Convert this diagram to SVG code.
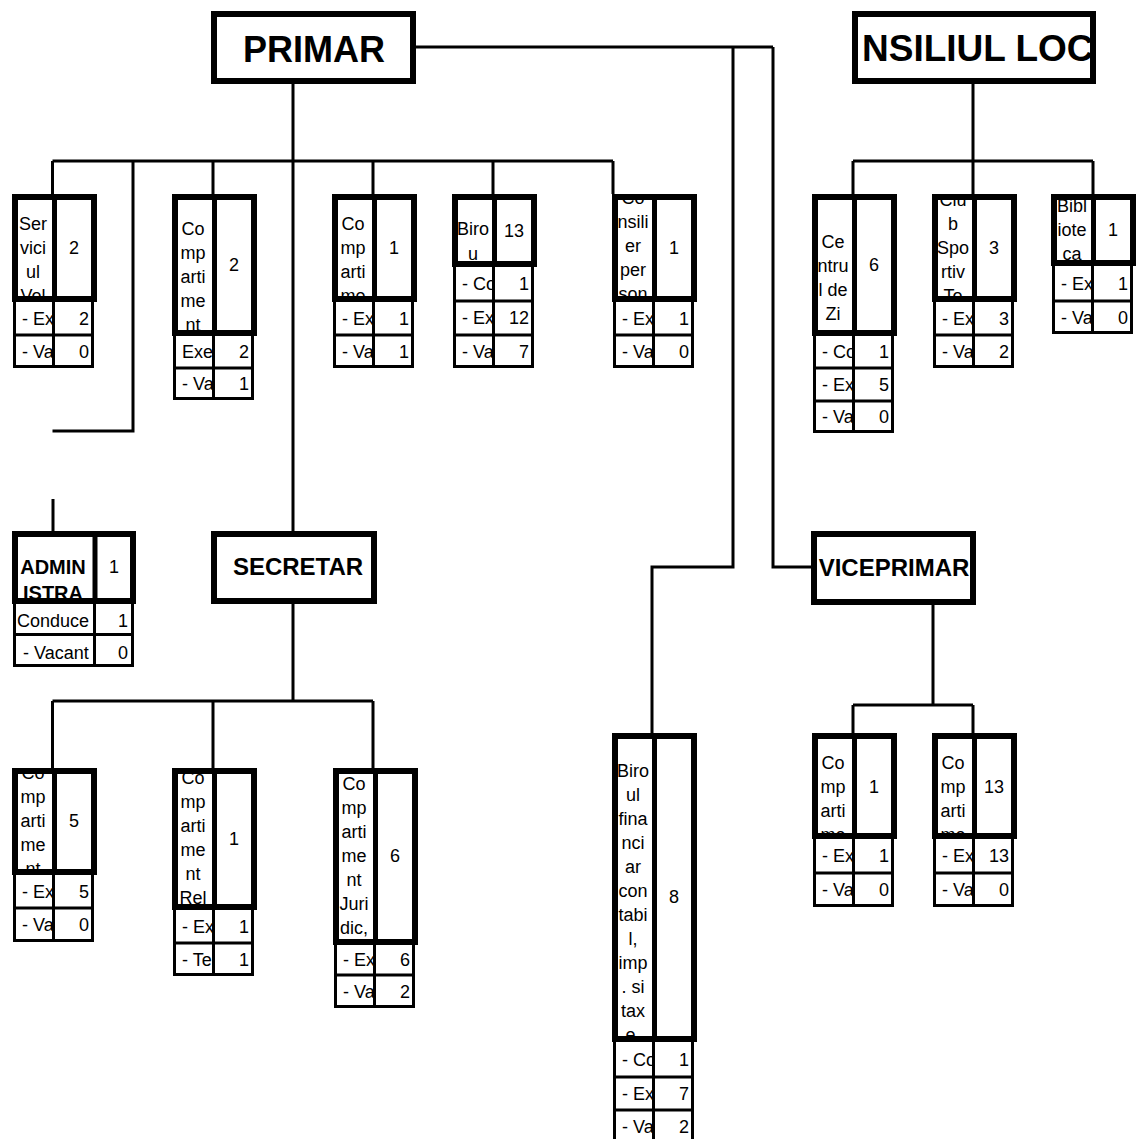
<svg xmlns="http://www.w3.org/2000/svg" width="1136" height="1139" viewBox="0 0 1136 1139">
<style>
.ln{stroke:#000;stroke-width:3;fill:none}
.hd{stroke:#000;stroke-width:6;fill:none}
.hdv{stroke:#000;stroke-width:5}
.rw{stroke:#000;stroke-width:3;fill:none}
text{font-family:"Liberation Sans",Arial,sans-serif;fill:#000;font-size:18px}
.nm,.num{text-anchor:middle}
.rn{text-anchor:end}
.ttl{font-weight:bold;text-anchor:middle}
.ttlL{font-weight:bold}
text.f36{font-size:36px}
text.f37{font-size:37px}
text.f24{font-size:24px}
text.f20{font-size:20px}
svg svg{overflow:hidden}
</style>
<rect x="0" y="0" width="1136" height="1139" fill="#fff"/>
<g id="connectors" class="ln">
<path d="M416,47H773M733,47V567H652V733M773,47V567H811"/>
<path d="M293,84V531M52.5,161H613M52.5,161V194M213,161V194M373,161V194M493,161V194M613,161V194M133,161V431H52.5M53,499V531"/>
<path d="M293,604V701M52.5,701H373M52.5,701V768M213,701V768M373,701V768"/>
<path d="M973,84V161M853,161H1093M853,161V194M973,161V194M1093,161V194"/>
<path d="M933,605V705M853,705H973M853,705V733M973,705V733"/>
</g>
<g id="n-primar"><rect class="hd" x="214" y="14" width="199" height="67"/><text class="ttl f36" x="314" y="62">PRIMAR</text></g>
<g id="n-consiliul"><svg x="858" y="17" width="232" height="61" viewBox="858 17 232 61"><text class="ttlL f37" x="862" y="61">NSILIUL LOC</text></svg><rect class="hd" x="855" y="14" width="238" height="67"/></g>
<g id="n-secretar"><rect class="hd" x="214" y="534" width="160" height="67"/><text class="ttl f24" x="298" y="575">SECRETAR</text></g>
<g id="n-viceprimar"><rect class="hd" x="814" y="534" width="159" height="68"/><text class="ttl f24" x="894" y="576">VICEPRIMAR</text></g>

<g id="n-serviciul" transform="translate(12,194)">
<path class="rw" d="M2.5,108V174M41.5,108V174M80.5,108V174M1,141H82M1,172.5H82"/>
<svg x="3" y="3" width="39" height="102" viewBox="3 3 39 102"><text class="nm"><tspan x="21" y="36">Ser</tspan><tspan x="21" y="60">vici</tspan><tspan x="21" y="84">ul</tspan><tspan x="21" y="108">Vol</tspan></text></svg>
<text class="num" x="62" y="60">2</text>
<svg x="3" y="108" width="37" height="66" viewBox="3 108 37 66"><text x="10" y="130.5">- Ex</text><text x="10" y="163.5">- Va</text></svg>
<text class="rn" x="77" y="130.5">2</text><text class="rn" x="77" y="163.5">0</text>
<rect class="hd" x="3" y="3" width="79" height="102"/><line class="hdv" x1="42.5" y1="0" x2="42.5" y2="108"/>
</g>

<g id="n-comp2" transform="translate(172,194)">
<path class="rw" d="M2.5,142V206M41.5,142V206M80.5,142V206M1,174H82M1,204.5H82"/>
<svg x="3" y="3" width="39" height="136" viewBox="3 3 39 136"><text class="nm"><tspan x="21" y="41">Co</tspan><tspan x="21" y="65">mp</tspan><tspan x="21" y="89">arti</tspan><tspan x="21" y="113">me</tspan><tspan x="21" y="137">nt</tspan></text></svg>
<text class="num" x="62" y="77">2</text>
<svg x="3" y="142" width="37" height="64" viewBox="3 142 37 64"><text x="10" y="164">Exe</text><text x="10" y="196">- Va</text></svg>
<text class="rn" x="77" y="164">2</text><text class="rn" x="77" y="196">1</text>
<rect class="hd" x="3" y="3" width="79" height="136"/><line class="hdv" x1="42.5" y1="0" x2="42.5" y2="142"/>
</g>

<g id="n-comp1" transform="translate(332,194)">
<path class="rw" d="M2.5,108V174M41.5,108V174M80.5,108V174M1,141H82M1,172.5H82"/>
<svg x="3" y="3" width="39" height="102" viewBox="3 3 39 102"><text class="nm"><tspan x="21" y="36">Co</tspan><tspan x="21" y="60">mp</tspan><tspan x="21" y="84">arti</tspan><tspan x="21" y="108">me</tspan></text></svg>
<text class="num" x="62" y="60">1</text>
<svg x="3" y="108" width="37" height="66" viewBox="3 108 37 66"><text x="10" y="130.5">- Ex</text><text x="10" y="163.5">- Va</text></svg>
<text class="rn" x="77" y="130.5">1</text><text class="rn" x="77" y="163.5">1</text>
<rect class="hd" x="3" y="3" width="79" height="102"/><line class="hdv" x1="42.5" y1="0" x2="42.5" y2="108"/>
</g>

<g id="n-birou" transform="translate(452,194)">
<path class="rw" d="M2.5,73V174M41.5,73V174M80.5,73V174M1,107H82M1,141H82M1,172.5H82"/>
<svg x="3" y="3" width="39" height="67" viewBox="3 3 39 67"><text class="nm"><tspan x="21" y="41">Biro</tspan><tspan x="21" y="66">u</tspan></text></svg>
<text class="num" x="62" y="43">13</text>
<svg x="3" y="73" width="37" height="101" viewBox="3 73 37 101"><text x="10" y="96">- Co</text><text x="10" y="130">- Ex</text><text x="10" y="163.5">- Va</text></svg>
<text class="rn" x="77" y="96">1</text><text class="rn" x="77" y="130">12</text><text class="rn" x="77" y="163.5">7</text>
<rect class="hd" x="3" y="3" width="79" height="67"/><line class="hdv" x1="42.5" y1="0" x2="42.5" y2="73"/>
</g>

<g id="n-consilier" transform="translate(612,194)">
<path class="rw" d="M2.5,108V174M41.5,108V174M80.5,108V174M1,141H82M1,172.5H82"/>
<svg x="3" y="3" width="39" height="102" viewBox="3 3 39 102"><text class="nm"><tspan x="21" y="10">Co</tspan><tspan x="21" y="34">nsili</tspan><tspan x="21" y="58">er</tspan><tspan x="21" y="82">per</tspan><tspan x="21" y="106">son</tspan></text></svg>
<text class="num" x="62" y="60">1</text>
<svg x="3" y="108" width="37" height="66" viewBox="3 108 37 66"><text x="10" y="130.5">- Ex</text><text x="10" y="163.5">- Va</text></svg>
<text class="rn" x="77" y="130.5">1</text><text class="rn" x="77" y="163.5">0</text>
<rect class="hd" x="3" y="3" width="79" height="102"/><line class="hdv" x1="42.5" y1="0" x2="42.5" y2="108"/>
</g>

<g id="n-centrul" transform="translate(812,194)">
<path class="rw" d="M2.5,142V239M41.5,142V239M80.5,142V239M1,174H82M1,207H82M1,237.5H82"/>
<svg x="3" y="3" width="39" height="136" viewBox="3 3 39 136"><text class="nm"><tspan x="21" y="54">Ce</tspan><tspan x="21" y="78">ntru</tspan><tspan x="21" y="102">l de</tspan><tspan x="21" y="126">Zi</tspan></text></svg>
<text class="num" x="62" y="77">6</text>
<svg x="3" y="142" width="37" height="97" viewBox="3 142 37 97"><text x="10" y="164">- Co</text><text x="10" y="196.5">- Ex</text><text x="10" y="229">- Va</text></svg>
<text class="rn" x="77" y="164">1</text><text class="rn" x="77" y="196.5">5</text><text class="rn" x="77" y="229">0</text>
<rect class="hd" x="3" y="3" width="79" height="136"/><line class="hdv" x1="42.5" y1="0" x2="42.5" y2="142"/>
</g>

<g id="n-club" transform="translate(932,194)">
<path class="rw" d="M2.5,108V174M41.5,108V174M80.5,108V174M1,141H82M1,172.5H82"/>
<svg x="3" y="3" width="39" height="102" viewBox="3 3 39 102"><text class="nm"><tspan x="21" y="12">Clu</tspan><tspan x="21" y="36">b</tspan><tspan x="21" y="60">Spo</tspan><tspan x="21" y="84">rtiv</tspan><tspan x="21" y="108">To</tspan></text></svg>
<text class="num" x="62" y="60">3</text>
<svg x="3" y="108" width="37" height="66" viewBox="3 108 37 66"><text x="10" y="130.5">- Ex</text><text x="10" y="163.5">- Va</text></svg>
<text class="rn" x="77" y="130.5">3</text><text class="rn" x="77" y="163.5">2</text>
<rect class="hd" x="3" y="3" width="79" height="102"/><line class="hdv" x1="42.5" y1="0" x2="42.5" y2="108"/>
</g>

<g id="n-biblioteca" transform="translate(1051,194)">
<path class="rw" d="M2.5,72V140M41.5,72V140M80.5,72V140M1,107H82M1,138.5H82"/>
<svg x="3" y="3" width="39" height="66" viewBox="3 3 39 66"><text class="nm"><tspan x="21" y="18">Bibl</tspan><tspan x="21" y="42">iote</tspan><tspan x="21" y="66">ca</tspan></text></svg>
<text class="num" x="62" y="42">1</text>
<svg x="3" y="72" width="37" height="68" viewBox="3 72 37 68"><text x="10" y="95.5">- Ex</text><text x="10" y="129.5">- Va</text></svg>
<text class="rn" x="77" y="95.5">1</text><text class="rn" x="77" y="129.5">0</text>
<rect class="hd" x="3" y="3" width="79" height="66"/><line class="hdv" x1="42.5" y1="0" x2="42.5" y2="72"/>
</g>

<g id="n-admin">
<path class="rw" d="M14.5,604V667M94.5,604V667M132.5,604V667M13,634.5H134M13,665.5H134"/>
<svg x="15" y="534" width="78" height="67" viewBox="15 534 78 67"><text class="ttl f20"><tspan x="53" y="574">ADMIN</tspan><tspan x="53" y="600">ISTRA</tspan></text></svg>
<text class="num" x="114" y="573">1</text>
<svg x="15" y="604" width="78" height="63" viewBox="15 604 78 63"><text x="17" y="627">Conduce</text><text x="23" y="659">- Vacant</text></svg>
<text class="rn" x="128" y="627">1</text><text class="rn" x="128" y="659">0</text>
<rect class="hd" x="15" y="534" width="118" height="67"/><line class="hdv" x1="95" y1="531" x2="95" y2="604"/>
</g>

<g id="n-comp5" transform="translate(12,768)">
<path class="rw" d="M2.5,107V174M41.5,107V174M80.5,107V174M1,140H82M1,172.5H82"/>
<svg x="3" y="3" width="39" height="101" viewBox="3 3 39 101"><text class="nm"><tspan x="21" y="11">Co</tspan><tspan x="21" y="35">mp</tspan><tspan x="21" y="59">arti</tspan><tspan x="21" y="83">me</tspan><tspan x="21" y="107">nt</tspan></text></svg>
<text class="num" x="62" y="59">5</text>
<svg x="3" y="107" width="37" height="67" viewBox="3 107 37 67"><text x="10" y="129.5">- Ex</text><text x="10" y="163">- Va</text></svg>
<text class="rn" x="77" y="129.5">5</text><text class="rn" x="77" y="163">0</text>
<rect class="hd" x="3" y="3" width="79" height="101"/><line class="hdv" x1="42.5" y1="0" x2="42.5" y2="107"/>
</g>

<g id="n-comprel" transform="translate(172,768)">
<path class="rw" d="M2.5,142V208M41.5,142V208M80.5,142V208M1,175H82M1,206.5H82"/>
<svg x="3" y="3" width="39" height="136" viewBox="3 3 39 136"><text class="nm"><tspan x="21" y="16">Co</tspan><tspan x="21" y="40">mp</tspan><tspan x="21" y="64">arti</tspan><tspan x="21" y="88">me</tspan><tspan x="21" y="112">nt</tspan><tspan x="21" y="136">Rel</tspan></text></svg>
<text class="num" x="62" y="77">1</text>
<svg x="3" y="142" width="37" height="66" viewBox="3 142 37 66"><text x="10" y="164.5">- Ex</text><text x="10" y="197.5">- Te</text></svg>
<text class="rn" x="77" y="164.5">1</text><text class="rn" x="77" y="197.5">1</text>
<rect class="hd" x="3" y="3" width="79" height="136"/><line class="hdv" x1="42.5" y1="0" x2="42.5" y2="142"/>
</g>

<g id="n-compjur" transform="translate(333,768)">
<path class="rw" d="M2.5,177V240M41.5,177V240M80.5,177V240M1,207H82M1,238.5H82"/>
<svg x="3" y="3" width="39" height="171" viewBox="3 3 39 171"><text class="nm"><tspan x="21" y="22">Co</tspan><tspan x="21" y="46">mp</tspan><tspan x="21" y="70">arti</tspan><tspan x="21" y="94">me</tspan><tspan x="21" y="118">nt</tspan><tspan x="21" y="142">Juri</tspan><tspan x="21" y="166">dic,</tspan></text></svg>
<text class="num" x="62" y="94">6</text>
<svg x="3" y="177" width="37" height="63" viewBox="3 177 37 63"><text x="10" y="198">- Ex</text><text x="10" y="229.5">- Va</text></svg>
<text class="rn" x="77" y="198">6</text><text class="rn" x="77" y="229.5">2</text>
<rect class="hd" x="3" y="3" width="79" height="171"/><line class="hdv" x1="42.5" y1="0" x2="42.5" y2="177"/>
</g>

<g id="n-biroulfin" transform="translate(612,733)">
<path class="rw" d="M2.5,309V410M41.5,309V410M80.5,309V410M1,344H82M1,377H82M1,408.5H82"/>
<svg x="3" y="3" width="39" height="303" viewBox="3 3 39 303"><text class="nm"><tspan x="21" y="44">Biro</tspan><tspan x="21" y="68">ul</tspan><tspan x="21" y="92">fina</tspan><tspan x="21" y="116">nci</tspan><tspan x="21" y="140">ar</tspan><tspan x="21" y="164">con</tspan><tspan x="21" y="188">tabi</tspan><tspan x="21" y="212">l,</tspan><tspan x="21" y="236">imp</tspan><tspan x="21" y="260">. si</tspan><tspan x="21" y="284">tax</tspan><tspan x="21" y="308">e,</tspan></text></svg>
<text class="num" x="62" y="170">8</text>
<svg x="3" y="309" width="37" height="101" viewBox="3 309 37 101"><text x="10" y="332.5">- Co</text><text x="10" y="366.5">- Ex</text><text x="10" y="399.5">- Va</text></svg>
<text class="rn" x="77" y="332.5">1</text><text class="rn" x="77" y="366.5">7</text><text class="rn" x="77" y="399.5">2</text>
<rect class="hd" x="3" y="3" width="79" height="303"/><line class="hdv" x1="42.5" y1="0" x2="42.5" y2="309"/>
</g>

<g id="n-vcomp1" transform="translate(812,733)">
<path class="rw" d="M2.5,106V174M41.5,106V174M80.5,106V174M1,140H82M1,172.5H82"/>
<svg x="3" y="3" width="39" height="100" viewBox="3 3 39 100"><text class="nm"><tspan x="21" y="36">Co</tspan><tspan x="21" y="60">mp</tspan><tspan x="21" y="84">arti</tspan><tspan x="21" y="108">me</tspan></text></svg>
<text class="num" x="62" y="60">1</text>
<svg x="3" y="106" width="37" height="68" viewBox="3 106 37 68"><text x="10" y="129">- Ex</text><text x="10" y="163">- Va</text></svg>
<text class="rn" x="77" y="129">1</text><text class="rn" x="77" y="163">0</text>
<rect class="hd" x="3" y="3" width="79" height="100"/><line class="hdv" x1="42.5" y1="0" x2="42.5" y2="106"/>
</g>

<g id="n-vcomp13" transform="translate(932,733)">
<path class="rw" d="M2.5,106V174M41.5,106V174M80.5,106V174M1,140H82M1,172.5H82"/>
<svg x="3" y="3" width="39" height="100" viewBox="3 3 39 100"><text class="nm"><tspan x="21" y="36">Co</tspan><tspan x="21" y="60">mp</tspan><tspan x="21" y="84">arti</tspan><tspan x="21" y="108">me</tspan></text></svg>
<text class="num" x="62" y="60">13</text>
<svg x="3" y="106" width="37" height="68" viewBox="3 106 37 68"><text x="10" y="129">- Ex</text><text x="10" y="163">- Va</text></svg>
<text class="rn" x="77" y="129">13</text><text class="rn" x="77" y="163">0</text>
<rect class="hd" x="3" y="3" width="79" height="100"/><line class="hdv" x1="42.5" y1="0" x2="42.5" y2="106"/>
</g>
</svg>
